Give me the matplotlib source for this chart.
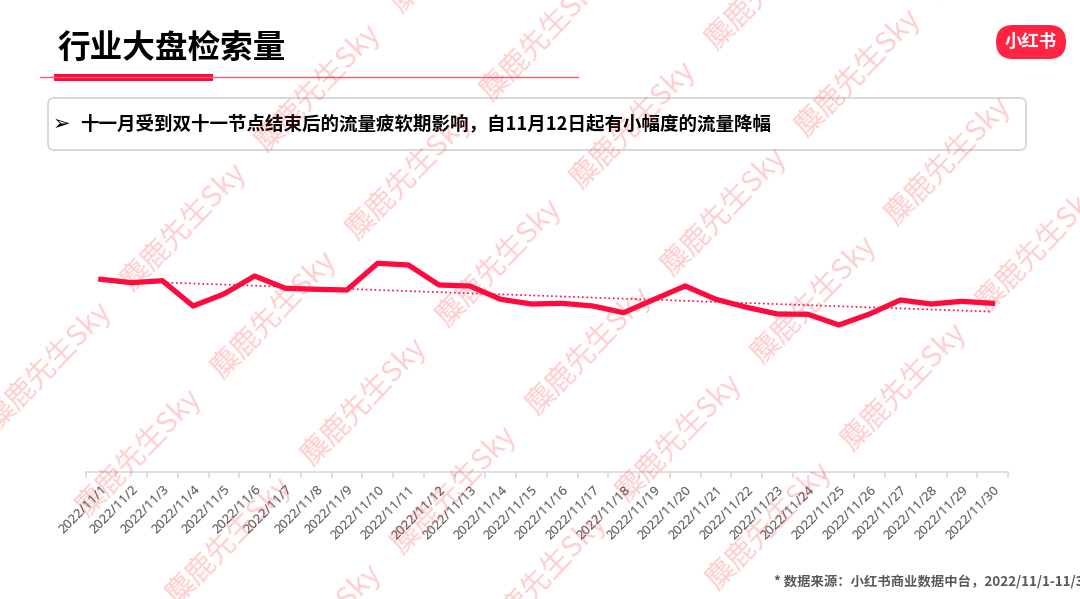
import numpy as np
import matplotlib
matplotlib.use('Agg')
import matplotlib.pyplot as plt
from matplotlib.patches import FancyBboxPatch, Rectangle

plt.rcParams['font.family'] = ['Noto Sans CJK SC', 'DejaVu Sans']

# dados (indice relativo, sem eixo y visivel)
dias = ['2022/11/1', '2022/11/2', '2022/11/3', '2022/11/4', '2022/11/5',
        '2022/11/6', '2022/11/7', '2022/11/8', '2022/11/9', '2022/11/10',
        '2022/11/11', '2022/11/12', '2022/11/13', '2022/11/14', '2022/11/15',
        '2022/11/16', '2022/11/17', '2022/11/18', '2022/11/19', '2022/11/20',
        '2022/11/21', '2022/11/22', '2022/11/23', '2022/11/24', '2022/11/25',
        '2022/11/26', '2022/11/27', '2022/11/28', '2022/11/29', '2022/11/30']
busca = [192.7, 189.3, 191.3, 166.0, 178.0, 196.0, 183.7, 182.7, 182.0, 208.7,
         207.0, 187.0, 186.0, 172.7, 168.0, 168.7, 166.0, 159.3, 172.7, 186.0,
         172.7, 164.7, 158.0, 157.7, 147.0, 158.0, 172.0, 168.0, 170.7, 168.7]

titulo = '行业大盘检索量'
resumo = '十一月受到双十一节点结束后的流量疲软期影响，自11月12日起有小幅度的流量降幅'
fonte = '* 数据来源：小红书商业数据中台，2022/11/1-11/30'
marca = '麋鹿先生Sky'

vermelho = '#ff0a3f'

fig = plt.figure(figsize=(10.8, 5.99), dpi=100)

# fundo: titulo, caixa, logo (coordenadas em pixels)
bg = fig.add_axes([0, 0, 1, 1])
bg.set_xlim(0, 1080)
bg.set_ylim(599, 0)
bg.axis('off')

bg.text(58, 48, titulo, fontsize=23.5, fontweight='bold', ha='left', va='center', color='black')
bg.plot([40, 578], [77, 77], color='#ff5a74', lw=1)
bg.add_patch(Rectangle((54, 73.5), 159, 7, color=vermelho, lw=0))

bg.add_patch(FancyBboxPatch((996, 25), 70, 34, boxstyle='round,pad=0,rounding_size=17',
                            fc='#ff2442', ec='none'))
bg.text(1031, 42, '小红书', color='white', fontsize=12.5, fontweight='bold', ha='center', va='center')

bg.add_patch(FancyBboxPatch((48, 98), 978, 52, boxstyle='round,pad=0,rounding_size=6',
                            fc='white', ec='#d5d5d5', lw=1.3))
bg.text(61, 124, '➢', family='DejaVu Sans', fontsize=15, fontweight='bold',
        ha='center', va='center', color='black')
bg.text(80, 124, resumo, fontsize=13.3, fontweight='bold', ha='left', va='center', color='black')

bg.text(774, 582, fonte, fontsize=9.6, fontweight='bold', ha='left', va='center', color='#595959')

# grafico
ax = fig.add_axes([85.5 / 1080, 1 - 472 / 599, 922.5 / 1080, 312 / 599])
ax.patch.set_alpha(0)
x = np.arange(1, len(busca) + 1)
ax.plot(x, busca, color=vermelho, lw=3.8, solid_joinstyle='round', zorder=3)
coef = np.polyfit(x, busca, 1)
ax.plot(x, np.polyval(coef, x), ':', color=vermelho, lw=1.2, zorder=2)

ax.set_xlim(0.5, len(busca) + 0.5)
ax.set_ylim(0, 312)
for lado in ['left', 'right', 'top']:
    ax.spines[lado].set_visible(False)
ax.spines['bottom'].set_color('#d9d9d9')
ax.spines['bottom'].set_linewidth(1.2)
ax.set_yticks([])
ax.set_xticks(x)
ax.set_xticklabels(dias, rotation=45, ha='right', va='top', rotation_mode='anchor',
                   fontsize=9.5, color='#505050', family='Noto Sans')
ax.tick_params(axis='x', which='major', length=0, pad=8)
ax.set_xticks(np.arange(0.5, len(busca) + 1), minor=True)
ax.tick_params(axis='x', which='minor', length=4, width=1.2, color='#d9d9d9')

# marca d'agua por cima de tudo
wm = fig.add_axes([0, 0, 1, 1])
wm.set_xlim(0, 1080)
wm.set_ylim(599, 0)
wm.axis('off')
wm.patch.set_visible(False)
for j in range(0, 6):
    for k in range(-1, 5):
        s = 289 + 125.6 * j
        t = -35 + 193.5 * k
        cx = 0.717 * s + 0.697 * t
        cy = 0.697 * s - 0.717 * t
        if -120 < cx < 1060 and -120 < cy < 720:
            wm.text(cx, cy, marca, rotation=45.8, rotation_mode='anchor', ha='center', va='center',
                    fontsize=21, fontweight='light', color='#ff2a2a', alpha=0.23)

fig.savefig('out.png', dpi=100)
